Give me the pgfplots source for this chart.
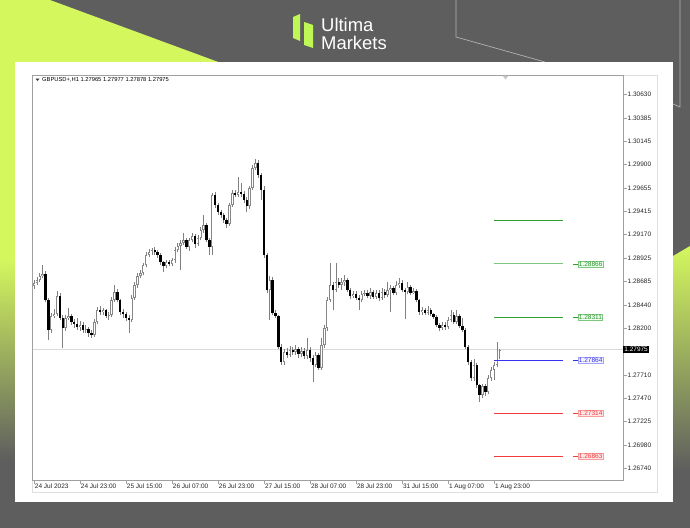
\documentclass[border=0pt]{standalone}
\usepackage{fontspec}
\setmainfont{Liberation Sans}
\usepackage{pgfplots}
\pgfplotsset{compat=1.18}
\usepackage{pgfplotstable}

\definecolor{bg}{RGB}{94,94,94}
\definecolor{lime}{RGB}{212,247,94}
\definecolor{framec}{RGB}{160,160,160}
\definecolor{wick}{RGB}{128,128,128}
\definecolor{bullout}{RGB}{135,135,135}
\definecolor{lvgreen}{RGB}{46,160,46}
\definecolor{lvgreenl}{RGB}{125,198,125}
\definecolor{lvred}{RGB}{240,60,60}
\definecolor{lvblue}{RGB}{50,50,240}

% GBPUSD H1, 24 Jul 2023 07:00 .. 2 Aug 2023 01:00
\pgfplotstableread{
i o h l c
0 1.28640 1.28700 1.28610 1.28668
1 1.28668 1.28730 1.28650 1.28699
2 1.28699 1.28770 1.28680 1.28741
3 1.28741 1.28855 1.28720 1.28761
4 1.28761 1.28790 1.28470 1.28491
5 1.28491 1.28510 1.28075 1.28179
6 1.28179 1.28360 1.28150 1.28325
7 1.28325 1.28400 1.28300 1.28345
8 1.28345 1.28585 1.28320 1.28533
9 1.28533 1.28560 1.28280 1.28304
10 1.28304 1.28330 1.27992 1.28200
11 1.28200 1.28340 1.28170 1.28304
12 1.28304 1.28408 1.28280 1.28325
13 1.28325 1.28350 1.28230 1.28262
14 1.28262 1.28290 1.28200 1.28241
15 1.28241 1.28300 1.28180 1.28210
16 1.28210 1.28270 1.28170 1.28231
17 1.28231 1.28260 1.28150 1.28179
18 1.28179 1.28230 1.28150 1.28189
19 1.28189 1.28210 1.28110 1.28148
20 1.28148 1.28180 1.28100 1.28127
21 1.28127 1.28290 1.28110 1.28262
22 1.28262 1.28420 1.28240 1.28387
23 1.28387 1.28430 1.28340 1.28366
24 1.28366 1.28410 1.28330 1.28387
25 1.28387 1.28400 1.28300 1.28325
26 1.28325 1.28370 1.28280 1.28335
27 1.28335 1.28520 1.28310 1.28491
28 1.28491 1.28647 1.28470 1.28574
29 1.28574 1.28610 1.28470 1.28491
30 1.28491 1.28500 1.28340 1.28366
31 1.28366 1.28400 1.28300 1.28345
32 1.28345 1.28370 1.28270 1.28304
33 1.28304 1.28330 1.28148 1.28283
34 1.28283 1.28540 1.28260 1.28512
35 1.28512 1.28680 1.28490 1.28647
36 1.28647 1.28770 1.28620 1.28741
37 1.28741 1.28800 1.28720 1.28772
38 1.28772 1.28880 1.28750 1.28855
39 1.28855 1.28990 1.28830 1.28959
40 1.28959 1.29020 1.28940 1.28990
41 1.28990 1.29030 1.28960 1.29011
42 1.29011 1.29040 1.28960 1.28990
43 1.28990 1.29010 1.28930 1.28959
44 1.28959 1.28980 1.28860 1.28886
45 1.28886 1.28900 1.28780 1.28845
46 1.28845 1.28910 1.28820 1.28886
47 1.28886 1.28910 1.28840 1.28865
48 1.28865 1.28930 1.28840 1.28907
49 1.28907 1.29040 1.28880 1.29011
50 1.29011 1.29080 1.28990 1.29053
51 1.29053 1.29110 1.28803 1.29084
52 1.29084 1.29188 1.29060 1.29115
53 1.29115 1.29140 1.29020 1.29042
54 1.29042 1.29140 1.29000 1.29115
55 1.29115 1.29190 1.29090 1.29157
56 1.29157 1.29180 1.29030 1.29073
57 1.29073 1.29170 1.29050 1.29136
58 1.29136 1.29250 1.29110 1.29219
59 1.29219 1.29375 1.29190 1.29271
60 1.29271 1.29290 1.29090 1.29115
61 1.29115 1.29140 1.28959 1.29042
62 1.29042 1.29604 1.28960 1.29583
63 1.29583 1.29610 1.29450 1.29479
64 1.29479 1.29500 1.29380 1.29406
65 1.29406 1.29430 1.29340 1.29375
66 1.29375 1.29400 1.29290 1.29323
67 1.29323 1.29340 1.29240 1.29281
68 1.29281 1.29500 1.29260 1.29479
69 1.29479 1.29630 1.29460 1.29604
70 1.29604 1.29640 1.29560 1.29583
71 1.29583 1.29770 1.29560 1.29614
72 1.29614 1.29708 1.29560 1.29593
73 1.29593 1.29620 1.29500 1.29531
74 1.29531 1.29560 1.29406 1.29469
75 1.29469 1.29680 1.29440 1.29656
76 1.29656 1.29900 1.29630 1.29864
77 1.29864 1.29960 1.29840 1.29916
78 1.29916 1.29950 1.29760 1.29791
79 1.29791 1.29810 1.29531 1.29635
80 1.29635 1.29680 1.28930 1.28959
81 1.28959 1.28980 1.28560 1.28595
82 1.28595 1.28741 1.28283 1.28699
83 1.28699 1.28730 1.28330 1.28356
84 1.28356 1.28390 1.28300 1.28325
85 1.28325 1.28340 1.27980 1.28002
86 1.28002 1.28030 1.27815 1.27846
87 1.27846 1.27980 1.27820 1.27950
88 1.27950 1.27990 1.27890 1.27919
89 1.27919 1.28010 1.27900 1.27971
90 1.27971 1.28000 1.27920 1.27950
91 1.27950 1.28020 1.27920 1.27981
92 1.27981 1.28000 1.27890 1.27929
93 1.27929 1.28000 1.27900 1.27961
94 1.27961 1.27990 1.27880 1.27908
95 1.27908 1.28096 1.27880 1.27971
96 1.27971 1.28000 1.27850 1.27888
97 1.27888 1.27920 1.27638 1.27815
98 1.27815 1.27950 1.27790 1.27919
99 1.27919 1.27940 1.27760 1.27784
100 1.27784 1.28096 1.27760 1.28023
101 1.28023 1.28230 1.27990 1.28200
102 1.28200 1.28520 1.28170 1.28491
103 1.28491 1.28876 1.28470 1.28647
104 1.28647 1.28680 1.28387 1.28595
105 1.28595 1.28876 1.28570 1.28678
106 1.28678 1.28720 1.28620 1.28647
107 1.28647 1.28720 1.28600 1.28678
108 1.28678 1.28750 1.28640 1.28699
109 1.28699 1.28720 1.28570 1.28595
110 1.28595 1.28620 1.28500 1.28533
111 1.28533 1.28580 1.28510 1.28553
112 1.28553 1.28580 1.28490 1.28512
113 1.28512 1.28540 1.28387 1.28491
114 1.28491 1.28580 1.28470 1.28553
115 1.28553 1.28600 1.28530 1.28564
116 1.28564 1.28600 1.28510 1.28533
117 1.28533 1.28620 1.28500 1.28574
118 1.28574 1.28600 1.28500 1.28522
119 1.28522 1.28600 1.28500 1.28564
120 1.28564 1.28590 1.28480 1.28512
121 1.28512 1.28620 1.28490 1.28574
122 1.28574 1.28610 1.28510 1.28543
123 1.28543 1.28678 1.28520 1.28595
124 1.28595 1.28650 1.28366 1.28616
125 1.28616 1.28640 1.28540 1.28564
126 1.28564 1.28690 1.28540 1.28647
127 1.28647 1.28720 1.28620 1.28668
128 1.28668 1.28700 1.28570 1.28595
129 1.28595 1.28620 1.28290 1.28574
130 1.28574 1.28680 1.28550 1.28626
131 1.28626 1.28650 1.28540 1.28564
132 1.28564 1.28620 1.28550 1.28584
133 1.28584 1.28610 1.28470 1.28491
134 1.28491 1.28500 1.28340 1.28366
135 1.28366 1.28420 1.28340 1.28387
136 1.28387 1.28410 1.28330 1.28356
137 1.28356 1.28430 1.28330 1.28387
138 1.28387 1.28410 1.28320 1.28345
139 1.28345 1.28360 1.28290 1.28314
140 1.28314 1.28330 1.28210 1.28231
141 1.28231 1.28250 1.28170 1.28200
142 1.28200 1.28260 1.28180 1.28231
143 1.28231 1.28260 1.28180 1.28210
144 1.28210 1.28310 1.28190 1.28283
145 1.28283 1.28387 1.28260 1.28335
146 1.28335 1.28366 1.28240 1.28262
147 1.28262 1.28387 1.28240 1.28325
148 1.28325 1.28350 1.28200 1.28221
149 1.28221 1.28304 1.28160 1.28179
150 1.28179 1.28200 1.27980 1.28002
151 1.28002 1.28020 1.27820 1.27846
152 1.27846 1.27870 1.27650 1.27680
153 1.27680 1.27880 1.27650 1.27815
154 1.27815 1.27840 1.27580 1.27607
155 1.27607 1.27620 1.27430 1.27503
156 1.27503 1.27620 1.27470 1.27597
157 1.27597 1.27620 1.27490 1.27534
158 1.27534 1.27710 1.27510 1.27680
159 1.27680 1.27790 1.27650 1.27763
160 1.27763 1.27850 1.27659 1.27815
161 1.27815 1.28050 1.27790 1.27965
162 1.27965 1.27977 1.27878 1.27975
}\candles

\pgfplotsset{
  candle/.style={draw=none, mark=none, forget plot,
    error bars/.cd, y dir=plus, y explicit, error mark=none,
    error bar style={draw=#1}},
}

\begin{document}
\begin{tikzpicture}
\useasboundingbox (0,0) rectangle (690bp,-528bp);

% background, brand shapes, white panel
\begin{scope}[x=1bp,y=-1bp]
  \fill[bg] (0,0) rectangle (690,528);
  \fill[lime] (0,0) -- (50,0) -- (240,70) -- (0,70) -- cycle;
  \fill[lime] (0,69) rectangle (15,260);
  \shade[top color=lime, bottom color=bg] (0,259) rectangle (15,460);
  \shade[top color=lime, bottom color=bg] (673,256) -- (690,246) -- (690,470) -- (673,470) -- cycle;
  \draw[gray!60!white, line width=0.7] (456,0) -- (456,37) -- (545,62);
  \draw[gray!60!white, line width=0.7] (680,0) -- (680,107) -- (673,104);
  % logo
  \fill[lime!90!green] (293,17) -- (300,14) -- (300,41) -- (293,38) -- cycle;
  \fill[lime!90!green] (304,22) -- (313,25) -- (313,48) -- (304,45) -- cycle;
  \node[anchor=base west, inner sep=0, text=white, font=\fontsize{18.5}{20}\selectfont] at (321,31) {Ultima};
  \node[anchor=base west, inner sep=0, text=white, font=\fontsize{18.5}{20}\selectfont] at (321,49) {Markets};
  \fill[white] (15,62) rectangle (673,502);
  \draw[gray!25, line width=0.6] (32.5,75) rectangle (657,492);
\end{scope}

\begin{axis}[
  at={(32.5bp,-480bp)}, anchor=south west,
  scale only axis, width=590.5bp, height=405bp,
  xmin=-0.52, xmax=204.87, ymin=1.26619, ymax=1.30831,
  clip=false,
  axis line style={framec, line width=0.8bp},
  xtick pos=bottom, ytick pos=right,
  tick align=outside, major tick length=3.5bp,
  tick style={framec, line width=0.6bp},
  scaled y ticks=false,
  xtick={0,16,...,160},
  xticklabels={24 Jul 2023, 24 Jul 23:00, 25 Jul 15:00, 26 Jul 07:00, 26 Jul 23:00, 27 Jul 15:00, 28 Jul 07:00, 28 Jul 23:00, 31 Jul 15:00, 1 Aug 07:00, 1 Aug 23:00},
  ytick={1.26740,1.26980,1.27225,1.27470,1.27710,1.28200,1.28440,1.28685,1.28925,1.29170,1.29415,1.29655,1.29900,1.30145,1.30385,1.30630},
  yticklabels={1.26740,1.26980,1.27225,1.27470,1.27710,1.28200,1.28440,1.28685,1.28925,1.29170,1.29415,1.29655,1.29900,1.30145,1.30385,1.30630},
  ticklabel style={font=\fontsize{6.5}{7}\selectfont, text=black!85},
  xticklabel style={anchor=north west, inner sep=0.5bp, xshift=0.3bp},
  yticklabel style={anchor=west, inner sep=1bp},
]
% bid line
\addplot[gray!30, line width=0.6bp, forget plot] coordinates {(-0.52,1.27975)(204.87,1.27975)};

% wicks: low to high
\addplot[candle=wick, error bar style={line width=0.7bp}]
  table[x=i, y=l, y error expr={\thisrow{h}-\thisrow{l}}] {\candles};
% bull bodies (zero length where the candle is bearish)
\addplot[candle=bullout, error bar style={line width=2.3bp}]
  table[x=i, y=o, y error expr={max(\thisrow{c}-\thisrow{o},0)}] {\candles};
\addplot[candle=white, error bar style={line width=0.9bp}]
  table[x=i, y expr={\thisrow{o}+0.00007}, y error expr={max(\thisrow{c}-\thisrow{o}-0.00014,0)}] {\candles};
% bear bodies
\addplot[candle=black, error bar style={line width=2.3bp}]
  table[x=i, y=c, y error expr={max(\thisrow{o}-\thisrow{c},0)}] {\candles};

% levels
\addplot[lvgreen, line width=0.9bp] coordinates {(160,1.29316)(184,1.29316)};
\addplot[lvgreenl, line width=0.9bp] coordinates {(160,1.28866)(184,1.28866)};
\addplot[lvgreen, line width=0.9bp] coordinates {(160,1.28311)(184,1.28311)};
\addplot[lvblue, line width=0.9bp] coordinates {(160,1.27864)(184,1.27864)};
\addplot[lvred, line width=0.9bp] coordinates {(160,1.27314)(184,1.27314)};
\addplot[lvred, line width=0.9bp] coordinates {(160,1.26863)(184,1.26863)};

\pgfplotsinvokeforeach{1.28866,1.28311}{
  \draw[lvgreen, line width=0.5bp] (axis cs:187.6,#1) -- (axis cs:189.2,#1);
  \node[anchor=west, inner sep=0.8bp, draw=lvgreenl, fill=green!7, text=lvgreen!90!black,
    font=\fontsize{6.5}{7}\selectfont] at (axis cs:189.2,#1) {#1};
}
\draw[lvblue, line width=0.5bp] (axis cs:187.6,1.27864) -- (axis cs:189.2,1.27864);
\node[anchor=west, inner sep=0.8bp, draw=lvblue!45, fill=blue!5, text=lvblue,
  font=\fontsize{6.5}{7}\selectfont] at (axis cs:189.2,1.27864) {1.27864};
\pgfplotsinvokeforeach{1.27314,1.26863}{
  \draw[lvred, line width=0.5bp] (axis cs:187.6,#1) -- (axis cs:189.2,#1);
  \node[anchor=west, inner sep=0.8bp, draw=lvred!50, fill=red!10, text=lvred,
    font=\fontsize{6.5}{7}\selectfont] at (axis cs:189.2,#1) {#1};
}

% bid label
\node[anchor=west, inner sep=1.2bp, fill=black, text=white, font=\fontsize{6.5}{7}\selectfont]
  at (axis cs:204.87,1.27975) {1.27975};
\end{axis}

\begin{scope}[x=1bp,y=-1bp]
  \fill[black!80] (35.5,78.5) -- (39.5,78.5) -- (37.5,81) -- cycle;
  \node[anchor=west, inner sep=0, font=\fontsize{5.8}{6}\selectfont] at (42,80)
    {GBPUSD+,H1 1.27965 1.27977 1.27878 1.27975};
  \fill[gray!45] (502.5,75.5) -- (508.5,75.5) -- (505.5,79.5) -- cycle;
\end{scope}
\end{tikzpicture}
\end{document}
